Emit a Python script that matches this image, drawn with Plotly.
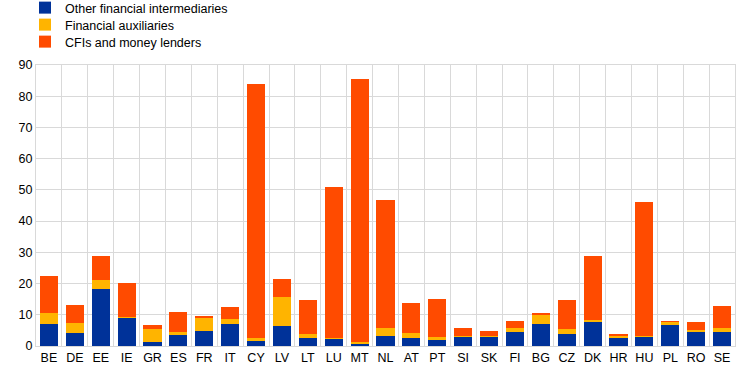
import plotly.graph_objects as go

countries = ["BE", "DE", "EE", "IE", "GR", "ES", "FR", "IT", "CY", "LV", "LT", "LU", "MT", "NL",
             "AT", "PT", "SI", "SK", "FI", "BG", "CZ", "DK", "HR", "HU", "PL", "RO", "SE"]
other_fi = [7.0, 4.2, 18.3, 9.0, 1.3, 3.5, 4.8, 7.0, 1.6, 6.4, 2.6, 2.5, 0.6, 3.2,
            2.6, 1.9, 2.9, 2.9, 4.5, 7.0, 3.8, 8.0, 2.6, 2.9, 6.7, 4.8, 4.5]
fin_aux = [3.6, 3.2, 2.9, 0.3, 4.2, 1.0, 4.2, 1.6, 1.0, 9.3, 1.2, 0.1, 0.7, 2.6,
           1.6, 1.0, 0.3, 0.3, 1.3, 2.9, 1.6, 0.3, 0.9, 0.3, 1.0, 0.3, 1.3]
cfi = [11.8, 5.7, 7.7, 10.9, 1.2, 6.4, 0.7, 3.8, 81.4, 5.8, 11.0, 48.4, 84.3, 41.0,
       9.6, 12.2, 2.6, 1.6, 2.2, 0.7, 9.3, 20.6, 0.3, 43.0, 0.3, 2.6, 7.0]
y_ticks = [0, 10, 20, 30, 40, 50, 60, 70, 80, 90]

series = [
    ("Other financial intermediaries", other_fi, "#003299", "legend"),
    ("Financial auxiliaries", fin_aux, "#FFB400", "legend2"),
    ("CFIs and money lenders", cfi, "#FF4B00", "legend3"),
]

fig = go.Figure()
for name, vals, col, lg in series:
    fig.add_trace(go.Bar(x=countries, y=vals, name=name, legend=lg,
                         marker=dict(color=col, line=dict(width=0))))

grid = "#d9d9d9"


def leg(top_px):
    return dict(orientation="v", x=25 / 744, xref="container", xanchor="left",
                y=1 + (65 - top_px) / 281, yref="paper", yanchor="top",
                font=dict(size=12.5), bgcolor="rgba(0,0,0,0)", itemwidth=30)


fig.update_layout(
    barmode="stack",
    bargap=0.3,
    width=744, height=373,
    margin=dict(l=36, r=9, t=65, b=27, autoexpand=False),
    paper_bgcolor="white", plot_bgcolor="white",
    font=dict(family="Arial, Liberation Sans, sans-serif", size=12, color="#000000"),
    legend=leg(-7),
    legend2=leg(10),
    legend3=leg(27),
    xaxis=dict(type="category", tickson="boundaries", showgrid=True, gridcolor=grid, gridwidth=1,
               ticks="", tickangle=0, showline=True, linecolor=grid, mirror=True,
               tickfont=dict(size=12.5)),
    yaxis=dict(range=[0, 90], tickvals=y_ticks, showgrid=True, gridcolor=grid, gridwidth=1,
               zeroline=False, ticks="", showline=True, linecolor=grid, mirror=True,
               tickfont=dict(size=12.5)),
    showlegend=True,
)

fig.write_html("out.html")
